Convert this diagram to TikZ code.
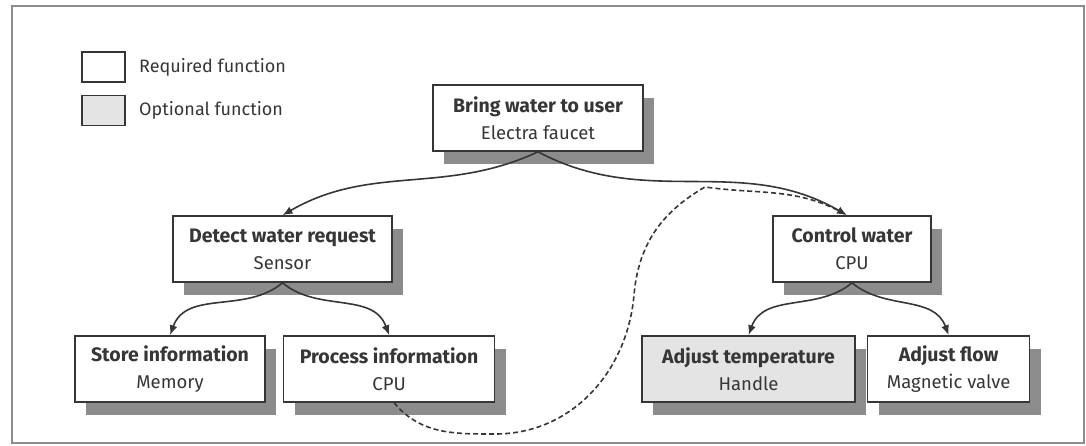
\documentclass[tikz,border=0pt]{standalone}
\usepackage{fontspec}
\setmainfont{Fira Sans}
\usepackage{tikz}
\usetikzlibrary{positioning}
\usetikzlibrary{shapes,arrows,arrows.meta,shadows}
\definecolor{inkgray}{HTML}{363636}
\definecolor{optfill}{HTML}{E4E4E4}
\definecolor{shadegray}{HTML}{8C8C8C}
\newcommand{\ftitle}[1]{{\fontsize{19.5}{27}\selectfont\bfseries #1}}
\tikzstyle{funcblock} = [rectangle, minimum height=66pt, text centered, align=center, draw=inkgray, line width=1.6pt, fill=white, text=inkgray, font=\fontsize{18.5}{27}\selectfont, drop shadow={shadow xshift=11pt, shadow yshift=-13pt, fill=shadegray, opacity=1}]
\tikzstyle{optblock} = [funcblock, fill=optfill]
\tikzstyle{keybox} = [rectangle, minimum width=43pt, minimum height=30pt, draw=inkgray, line width=1.4pt, fill=white]
\tikzstyle{keytext} = [text=inkgray, font=\fontsize{18}{20}\selectfont]
\tikzstyle{line} = [draw=inkgray, line width=1.6pt, -{Latex[length=10pt,width=8pt]}]
\tikzstyle{optline} = [draw=inkgray, line width=1.6pt, dash pattern=on 5pt off 3pt]

\begin{document}
\begin{tikzpicture}[x=1pt, y=1pt]
				\useasboundingbox (0,0) rectangle (1086,445);
				\draw [black!45, line width=1.5pt] (12,2) rectangle (1084,439);
				% Legend
				\node [keybox] (reqkey) at (103.5,378) {};
				\node [keybox, fill=optfill] (optkey) at (103.5,334.5) {};
				\node [keytext, right = 10pt of reqkey] (reqtext) {Required function};
				\node [keytext, right = 10pt of optkey] (opttext) {Optional function};
				% Place nodes
				\node [funcblock, minimum width=210pt] (bring) at (538,327) {\ftitle{Bring water to user}\\Electra faucet};
				\node [funcblock, minimum width=219pt] (detect) at (282.5,196) {\ftitle{Detect water request}\\Sensor};
				\node [funcblock, minimum width=158pt] (control) at (852,196) {\ftitle{Control water}\\CPU};
				\node [funcblock, minimum width=190pt] (store) at (170,76) {\ftitle{Store information}\\Memory};
				\node [funcblock, minimum width=211pt, right = 17pt of store] (process) {\ftitle{Process information}\\CPU};
				\node [optblock, minimum width=213pt] (temp) at (748.5,76) {\ftitle{Adjust temperature}\\Handle};
				\node [funcblock, minimum width=162pt, right = 11pt of temp] (flow) {\ftitle{Adjust flow}\\Magnetic valve};
				% Connectors
				\path [line] (bring.south) to[out=-155, in=30] (detect.north);
				\path [line] (bring.south) to[out=-28, in=150] ([xshift=-5pt]control.north);
				\path [line] (detect.south) to[out=-140, in=70] (store.north);
				\path [line] (detect.south) to[out=-40, in=110] (process.north);
				\path [line] (control.south) to[out=-140, in=70] (temp.north);
				\path [line] (control.south) to[out=-40, in=110] (flow.north);
				\coordinate (dip) at (495,11);
				\coordinate (climb) at (634,150);
				\coordinate (merge) at (705,258);
				\path [optline] ([xshift=5pt]process.south) to[out=-50, in=180] (dip) to[out=0, in=-95] (climb) to[out=85, in=-150] (merge) to[out=-8, in=150] ([xshift=-5pt]control.north);
\end{tikzpicture}
\end{document}
